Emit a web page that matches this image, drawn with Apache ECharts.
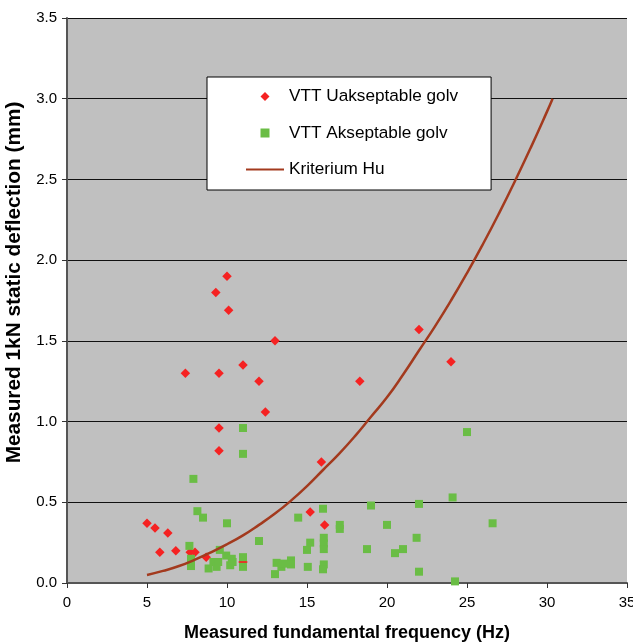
<!DOCTYPE html>
<html>
<head>
<meta charset="utf-8">
<script src="https://cdn.jsdelivr.net/npm/echarts@6/dist/echarts.min.js"></script>
<style>
html,body{margin:0;padding:0;background:#fff;}
#chart{width:633px;height:643px;}
</style>
</head>
<body>
<div id="chart"></div>
<script>
// Data
const seriesNames = ['VTT Uakseptable golv', 'VTT Akseptable golv', 'Kriterium Hu'];
const xTicks = [0, 5, 10, 15, 20, 25, 30, 35];
const yTicks = [0.0, 0.5, 1.0, 1.5, 2.0, 2.5, 3.0, 3.5];

// [frequency Hz, deflection mm]
const uakseptable = [
  [5.0,0.37],[5.5,0.34],[5.8,0.19],[6.3,0.31],[6.8,0.20],[7.4,1.30],[7.7,0.19],[8.0,0.19],
  [8.7,0.16],[9.3,1.80],[9.5,1.30],[9.5,0.96],[9.5,0.82],[10.0,1.90],[10.1,1.69],[11.0,1.35],
  [11.0,0.13],[12.0,1.25],[12.4,1.06],[13.0,1.50],[15.2,0.44],[15.9,0.75],[16.1,0.36],
  [18.3,1.25],[22.0,1.57],[24.0,1.37]
];

const akseptable = [
  [7.65,0.23],[7.75,0.15],[7.75,0.105],[7.9,0.645],[8.15,0.445],[8.5,0.405],[8.85,0.09],
  [9.15,0.13],[9.35,0.10],[9.45,0.13],[9.55,0.205],[9.95,0.17],[10.0,0.37],[10.2,0.11],
  [10.3,0.15],[10.35,0.13],[11.0,0.96],[11.0,0.80],[11.0,0.16],[11.0,0.10],[12.0,0.26],
  [13.0,0.055],[13.1,0.125],[13.4,0.10],[13.5,0.12],[14.0,0.14],[14.0,0.115],[14.45,0.405],
  [15.0,0.205],[15.05,0.10],[15.2,0.25],[16.0,0.46],[16.05,0.28],[16.05,0.245],[16.05,0.21],
  [16.05,0.115],[16.0,0.085],[17.05,0.36],[17.05,0.335],[18.75,0.21],[19.0,0.48],[20.0,0.36],
  [20.5,0.185],[21.0,0.21],[21.85,0.28],[22.0,0.49],[22.0,0.07],[24.1,0.53],[24.25,0.01],
  [25.0,0.935],[26.6,0.37]
];

const kriterium = [
  [5,0.05],[6,0.075],[7,0.105],[8,0.145],[9,0.19],[10,0.24],[11,0.295],[12,0.36],[13,0.43],
  [14,0.51],[15,0.60],[16,0.70],[17,0.80],[18,0.91],[19,1.03],[20,1.15],[21,1.29],[22,1.44],
  [23,1.59],[24,1.75],[25,1.92],[26,2.10],[27,2.29],[28,2.49],[29,2.70],[30,2.92],[30.35,3.0]
];

const chart = echarts.init(document.getElementById('chart'), null, {renderer: 'canvas'});
const font = 'Liberation Sans, Arial, sans-serif';

chart.setOption({
  animation: false,
  backgroundColor: '#ffffff',
  grid: {
    left: 67, right: 6, top: 18, bottom: 60,
    outerBoundsMode: 'none',
    containLabel: false,
    show: true, backgroundColor: '#C0C0C0', borderWidth: 0
  },
  legend: {
    orient: 'vertical',
    left: 207, top: 77,
    backgroundColor: '#ffffff',
    borderColor: '#000000',
    borderWidth: 1,
    padding: [11, 33, 12, 38],
    itemWidth: 38,
    itemHeight: 9,
    itemGap: 19.5,
    symbolKeepAspect: true,
    textStyle: {fontFamily: font, fontSize: 17.2, color: '#000'},
    data: [
      {name: seriesNames[0], icon: 'path://M0,-1L1,0L0,1L-1,0Z'},
      {name: seriesNames[1], icon: 'path://M0,0L1,0L1,1L0,1Z'},
      {name: seriesNames[2], itemStyle: {opacity: 0}}
    ]
  },
  xAxis: {
    type: 'value',
    min: xTicks[0], max: xTicks[xTicks.length - 1], interval: 5,
    name: 'Measured fundamental frequency (Hz)',
    nameLocation: 'middle', nameGap: 41,
    nameTextStyle: {fontFamily: font, fontSize: 18, fontWeight: 'bold', color: '#000'},
    axisLine: {show: true, onZero: false, lineStyle: {color: '#555', width: 2}},
    axisTick: {show: true, length: 5, lineStyle: {color: '#333'}},
    axisLabel: {fontFamily: font, fontSize: 15, color: '#000', margin: 12,
      formatter: v => xTicks.includes(v) ? String(v) : ''},
    splitLine: {show: false}
  },
  yAxis: {
    type: 'value',
    min: yTicks[0], max: yTicks[yTicks.length - 1], interval: 0.5,
    name: 'Measured 1kN static deflection (mm)',
    nameLocation: 'middle', nameGap: 37,
    nameTextStyle: {fontFamily: font, fontSize: 20.8, fontWeight: 'bold', color: '#000',
      padding: [0, 0, 0, 36]},
    axisLine: {show: true, onZero: false, lineStyle: {color: '#555', width: 2}},
    axisTick: {show: true, length: 5, lineStyle: {color: '#333'}},
    axisLabel: {fontFamily: font, fontSize: 15, color: '#000', margin: 10,
      formatter: v => v.toFixed(1)},
    splitLine: {show: true, lineStyle: {color: '#111', width: 1}}
  },
  series: [
    {
      name: seriesNames[0],
      type: 'scatter',
      symbol: 'diamond',
      symbolSize: 9.5,
      itemStyle: {color: '#F52222', opacity: 1},
      data: uakseptable,
      z: 3
    },
    {
      name: seriesNames[1],
      type: 'scatter',
      symbol: 'rect',
      symbolSize: 8,
      itemStyle: {color: '#6ABD45', opacity: 1},
      data: akseptable,
      z: 4
    },
    {
      name: seriesNames[2],
      type: 'line',
      symbol: 'none',
      smooth: true,
      lineStyle: {color: '#A33A1E', width: 2.5},
      itemStyle: {color: '#A33A1E'},
      data: kriterium,
      z: 5
    }
  ]
});
</script>
</body>
</html>
